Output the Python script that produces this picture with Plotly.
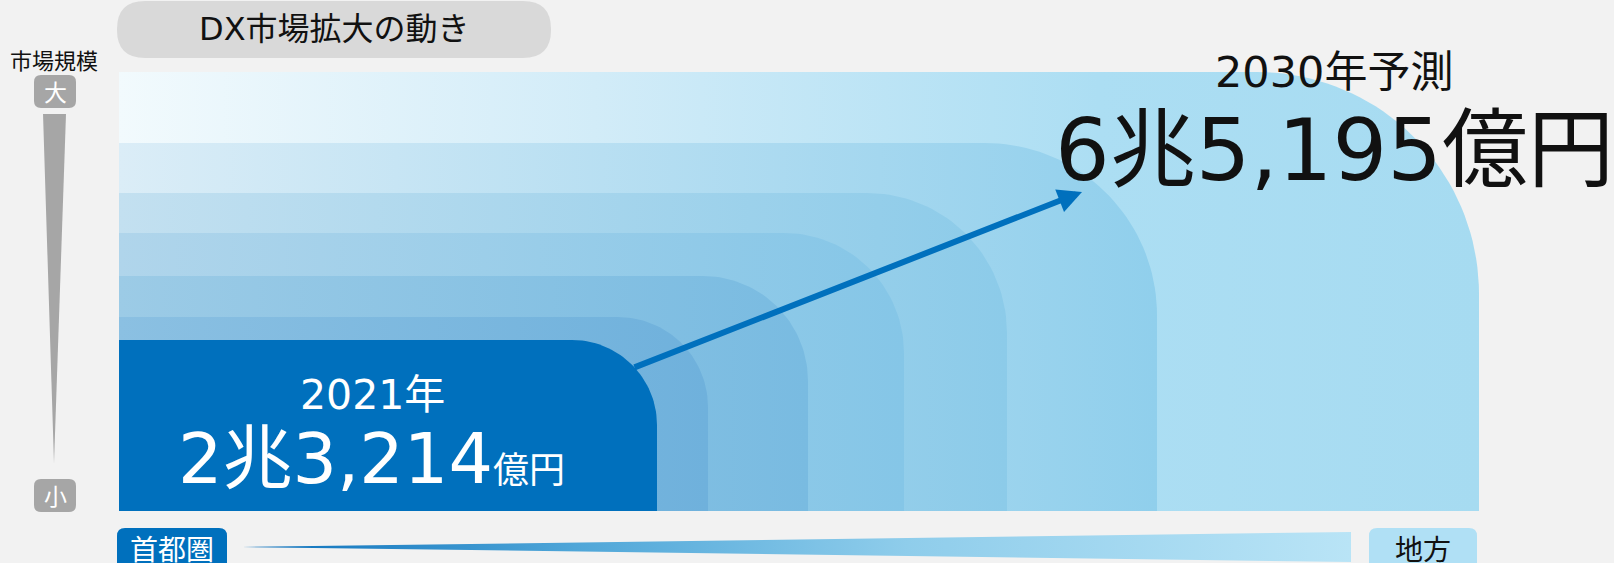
import numpy as np
import plotly.graph_objects as go

# ---------------- data ----------------
years = ["2021年", "2030年予測"]
market_oku = [23214, 65195]          # 億円
scale_labels = ["大", "小"]
axis_title = "市場規模"
region_labels = ["首都圏", "地方"]
title_text = "DX市場拡大の動き"

# concentric market-size layers (inner -> outer): extent right / top, corner radius
layer_right = [657, 708, 808, 904, 1007, 1157, 1479]
layer_top = [340, 317, 276, 233, 193, 143, 72]
layer_radius = [85, 90, 105, 120, 140, 172, 222]
layer_grad = [
    [[0, "#0070bd"], [1, "#0070bd"]],
    [[0, "#8bc0e2"], [1, "#6fb1dc"]],
    [[0, "#9ccbe6"], [1, "#79bbe1"]],
    [[0, "#b0d5eb"], [1, "#85c6e7"]],
    [[0, "#c3e0f0"], [1, "#8ccbe9"]],
    [[0, "#dbedf7"], [1, "#90cfec"]],
    [[0, "#f2fafd"], [0.35, "#d2ecf8"], [0.72, "#acdef3"], [1, "#a6dbf1"]],
]
LEFT, BOTTOM = 119, 511

W, H = 1614, 563
FONT = "DejaVu Sans, Noto Sans CJK JP"
CJK = "Noto Sans CJK JP"


def fmt(v):
    return f"{v // 10000}兆{v % 10000:,}"


def layer_path(x0, y0, x1, y1, r):
    # rounded top-right corner only (y axis reversed: y0 top)
    t = np.linspace(0, np.pi / 2, 40)
    cx, cy = x1 - r, y0 + r
    ax = cx + r * np.sin(t)
    ay = cy - r * np.cos(t)
    xs = [x0, x0] + list(ax) + [x1, x0]
    ys = [y1, y0] + list(ay) + [y1, y1]
    return xs, ys


def rrect(x0, y0, x1, y1, r):
    return (f"M{x0+r},{y0} L{x1-r},{y0} Q{x1},{y0} {x1},{y0+r} L{x1},{y1-r} "
            f"Q{x1},{y1} {x1-r},{y1} L{x0+r},{y1} Q{x0},{y1} {x0},{y1-r} "
            f"L{x0},{y0+r} Q{x0},{y0} {x0+r},{y0} Z")


fig = go.Figure()

# layers, outer first
for i in reversed(range(len(layer_right))):
    xs, ys = layer_path(LEFT, layer_top[i], layer_right[i], BOTTOM, layer_radius[i])
    fig.add_trace(go.Scatter(
        x=xs, y=ys, mode="lines", fill="toself", line=dict(width=0),
        fillgradient=dict(type="horizontal", colorscale=layer_grad[i]),
        hoverinfo="skip", showlegend=False))

# vertical scale wedge
fig.add_trace(go.Scatter(
    x=[43, 66, 54, 43], y=[114, 114, 463, 114], mode="lines", fill="toself",
    line=dict(width=0), fillcolor="#a6a6a6", hoverinfo="skip", showlegend=False))

# horizontal region wedge
fig.add_trace(go.Scatter(
    x=[242, 1351, 1351, 242], y=[547, 532, 562, 547], mode="lines", fill="toself",
    line=dict(width=0),
    fillgradient=dict(type="horizontal",
                      colorscale=[[0, "#0a6fbb"], [0.3, "#4fa6d8"], [0.6, "#8fcdeb"], [1, "#b9e4f6"]]),
    hoverinfo="skip", showlegend=False))

shapes = [
    dict(type="path", path=rrect(117, 1, 551, 58, 28), fillcolor="#d9d9d9", line=dict(width=0), layer="below"),
    dict(type="path", path=rrect(34, 75, 76, 108, 7), fillcolor="#a6a6a6", line=dict(width=0)),
    dict(type="path", path=rrect(34, 479, 76, 512, 7), fillcolor="#a6a6a6", line=dict(width=0)),
    dict(type="path", path=rrect(117, 528, 227, 578, 8), fillcolor="#0070bd", line=dict(width=0)),
    dict(type="path", path=rrect(1369, 528, 1477, 578, 8), fillcolor="#b0e0f5", line=dict(width=0)),
]


def ann(text, x, y, size, color, family=FONT, **kw):
    d = dict(text=text, x=x, y=y, xref="x", yref="y", showarrow=False,
             font=dict(family=family, size=size, color=color), xanchor="center", yanchor="middle")
    d.update(kw)
    return d


annotations = [
    ann(title_text, 334, 29, 32, "#111111"),
    ann(axis_title, 54, 59, 22, "#111111", family=CJK),
    ann(scale_labels[0], 55, 91, 23, "white", family=CJK),
    ann(scale_labels[1], 55, 495, 23, "white", family=CJK),
    ann(region_labels[0], 172, 548, 28, "white", family=CJK),
    ann(region_labels[1], 1423, 548, 28, "#111111", family=CJK),
    ann(years[0], 372, 395, 41, "white"),
    ann(fmt(market_oku[0]) + '<span style="font-size:36px">億円</span>', 371, 459, 70, "white"),
    ann(years[1], 1334, 72, 43, "#111111"),
    ann(fmt(market_oku[1]) + "億円", 1334, 150, 86, "#111111"),
    dict(x=1082, y=192, ax=633, ay=368, xref="x", yref="y", axref="x", ayref="y",
         showarrow=True, arrowhead=2, arrowsize=0.8, arrowwidth=6, arrowcolor="#0070bd",
         text="", standoff=0, startstandoff=0),
]

fig.update_layout(
    width=W, height=H, margin=dict(l=0, r=0, t=0, b=0),
    paper_bgcolor="#f2f2f2", plot_bgcolor="rgba(0,0,0,0)",
    xaxis=dict(range=[0, W], visible=False, fixedrange=True),
    yaxis=dict(range=[H, 0], visible=False, fixedrange=True),
    shapes=shapes, annotations=annotations, showlegend=False,
)

fig.write_html("out.html", config={"displayModeBar": False},
               post_script="document.body.style.margin='0';document.body.style.overflow='hidden';")
